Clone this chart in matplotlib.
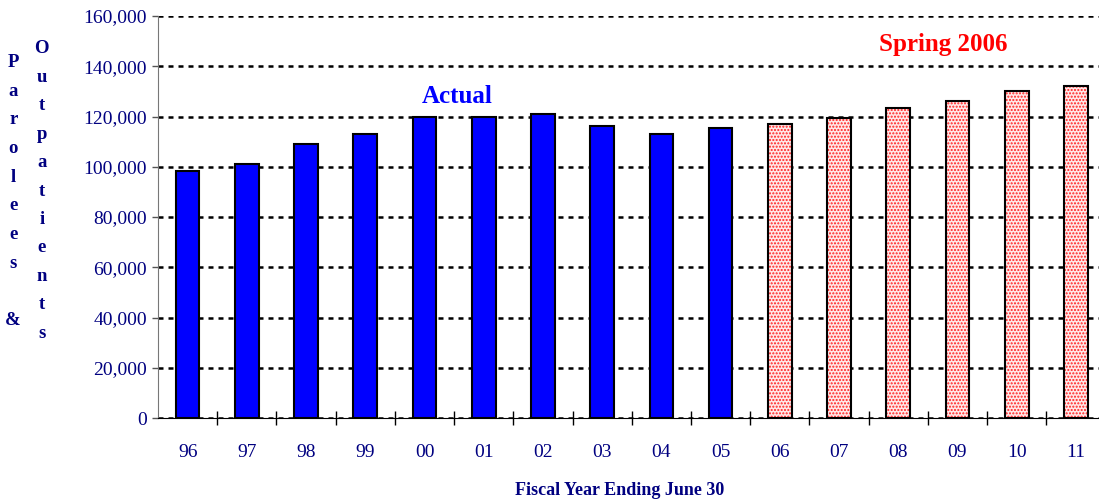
import matplotlib.pyplot as plt
from matplotlib.ticker import FuncFormatter

years = ['96', '97', '98', '99', '00', '01', '02', '03', '04', '05',
         '06', '07', '08', '09', '10', '11']
actual = [98300, 101000, 109000, 113000, 119800, 119800, 121000, 116200,
          113000, 115400]
projected = [116900, 119500, 123500, 126200, 130300, 132300]

plt.rcParams['font.family'] = ['Liberation Serif', 'DejaVu Serif']
navy = '#000080'

fig = plt.figure(figsize=(10.99, 5.04), dpi=100)
ax = fig.add_axes([0.1438, 0.1706, 0.8562, 0.7976])

x_act = list(range(len(actual)))
x_proj = list(range(len(actual), len(years)))

ax.bar(x_act, actual, width=0.4, color='#0000ff', edgecolor='black',
       linewidth=1.5, zorder=3)
# dotted red fill, then black outline on top
ax.bar(x_proj, projected, width=0.4, color='#ffe8e8', edgecolor='#ff2020',
       hatch='.....', linewidth=0, zorder=3)
ax.bar(x_proj, projected, width=0.4, color='none', edgecolor='black',
       linewidth=1.5, zorder=4)

ax.set_ylim(0, 160000)
ax.set_xlim(-0.5, 15.39)
ax.set_yticks(range(0, 160001, 20000))
ax.yaxis.set_major_formatter(FuncFormatter(lambda v, p: f'{int(v):,}'))
ax.grid(axis='y', color='black', linestyle=(0, (2, 2)), linewidth=1.8, zorder=1)
ax.set_axisbelow(True)

ax.set_xticks(range(len(years)))
ax.set_xticklabels(years)
ax.set_xticks([i + 0.5 for i in range(len(years) - 1)], minor=True)
ax.tick_params(axis='x', which='major', length=0, pad=19, labelsize=14,
               labelcolor=navy)
ax.tick_params(axis='x', which='minor', direction='inout', length=10,
               width=1, color='black')
ax.tick_params(axis='y', length=4, width=1, pad=4, labelsize=14,
               labelcolor=navy, color='#555555')

ax.spines['top'].set_visible(False)
ax.spines['right'].set_visible(False)
ax.spines['left'].set_color('#777777')
ax.spines['bottom'].set_color('black')

ax.text(0.318, 0.80, 'Actual', transform=ax.transAxes, ha='center',
        va='center', fontsize=18, fontweight='bold', color='#0000ff')
ax.text(0.835, 0.929, 'Spring 2006', transform=ax.transAxes, ha='center',
        va='center', fontsize=18, fontweight='bold', color='#ff0000')

fig.text(0.564, 0.027, 'Fiscal Year Ending June 30', ha='center', va='center',
         fontsize=13, fontweight='bold', color=navy)

fig.text(0.012, 0.893, '\n'.join('Parolees') + '\n\n&', ha='center', va='top',
         fontsize=13.5, fontweight='bold', color=navy, linespacing=1.9)
fig.text(0.038, 0.920, '\n'.join('Outpatients'), ha='center', va='top',
         fontsize=13.5, fontweight='bold', color=navy, linespacing=1.88)

fig.savefig('out.png', dpi=100)
